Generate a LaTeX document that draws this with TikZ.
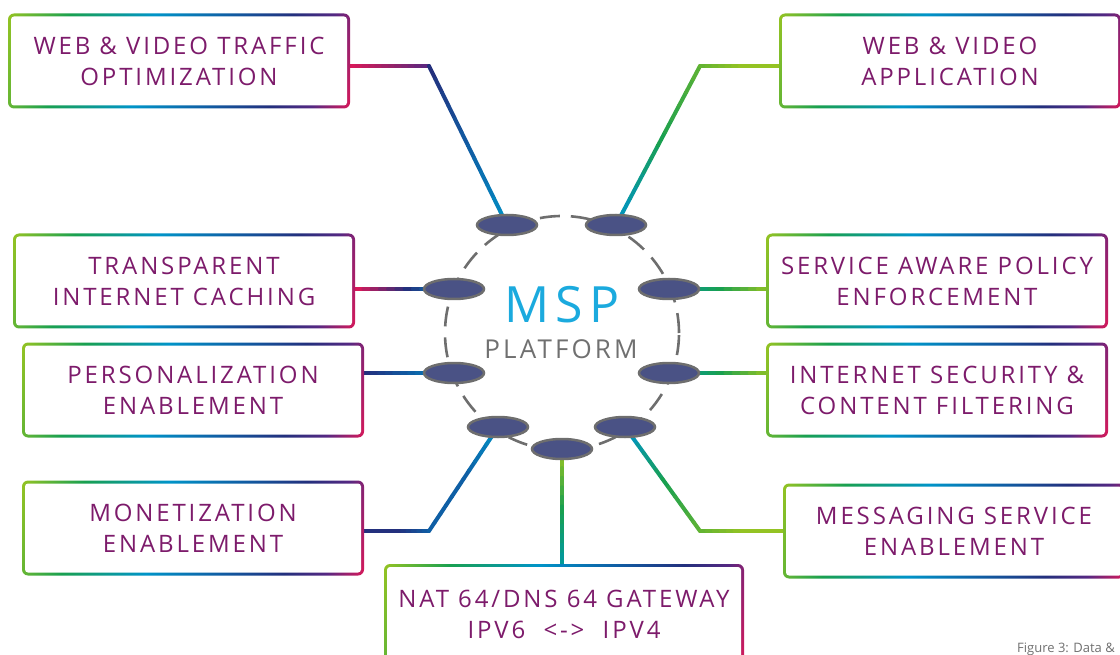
\documentclass[tikz,border=0pt]{standalone}
\usepackage{fontspec}
\setmainfont{Open Sans}
\newfontfamily\mspfont{Open Sans}[LetterSpace=12]
\usepackage{tikz}
\usetikzlibrary{
  shapes.geometric,
  calc,
  backgrounds
}
\tikzset{
  every node/.style={inner sep=2pt}
}
\definecolor{boxText}{RGB}{125, 27, 107}
\definecolor{mspCyan}{RGB}{27, 170, 222}
\definecolor{platformGray}{RGB}{112, 112, 112}
\definecolor{ringGray}{RGB}{110, 110, 110}
\definecolor{plugFill}{RGB}{74, 82, 133}
\definecolor{lineMagenta}{RGB}{215, 25, 90}
\definecolor{linePlum}{RGB}{150, 35, 105}
\definecolor{linePurple}{RGB}{85, 40, 130}
\definecolor{lineNavy}{RGB}{35, 48, 125}
\definecolor{lineBlue}{RGB}{15, 95, 165}
\definecolor{lineCyan}{RGB}{0, 148, 200}
\definecolor{lineTeal}{RGB}{0, 152, 165}
\definecolor{lineGreen}{RGB}{25, 160, 80}
\definecolor{lineLeaf}{RGB}{100, 180, 50}
\definecolor{lineLime}{RGB}{148, 195, 35}

\pgfdeclarehorizontalshading{frameGradient}{100bp}{
  color(0bp)=(lineLime); color(19.7bp)=(lineLime);
  color(30bp)=(lineGreen); color(44bp)=(lineCyan);
  color(56bp)=(lineBlue); color(67bp)=(lineNavy);
  color(74bp)=(linePurple); color(80.3bp)=(lineMagenta);
  color(100bp)=(lineMagenta)}

\newcommand{\gradline}[5]{%
  \foreach \i in {0,...,11}{
    \pgfmathsetmacro{\fa}{\i/12}
    \pgfmathsetmacro{\fb}{(\i+1)/12}
    \pgfmathtruncatemacro{\mixA}{100-\i*100/6}
    \pgfmathtruncatemacro{\mixB}{200-\i*100/6}
    \ifnum\i<6
      \colorlet{segColor}{#3!\mixA!#4}
    \else
      \colorlet{segColor}{#4!\mixB!#5}
    \fi
    \draw[link, segColor] ($(#1)!\fa!(#2)$) -- ($(#1)!\fb!(#2)$);
  }%
}

\begin{document}
\begin{tikzpicture}[
    x=1pt, y=-1pt,
    mspbox/.style={rectangle, rounded corners=6pt, shade, shading=frameGradient, shading angle=-14,
      path picture={\fill[white, rounded corners=3pt] ([xshift=3pt,yshift=-3pt]path picture bounding box.north west) rectangle ([xshift=-3pt,yshift=3pt]path picture bounding box.south east);},
      minimum width=342pt, minimum height=95pt, align=center, text=boxText,
      font=\mspfont\fontsize{24}{31}\selectfont},
    plug/.style={ellipse, fill=plugFill, draw=ringGray, line width=2.5pt, minimum width=60pt, minimum height=20pt, inner sep=0pt},
    ring/.style={draw=ringGray, line width=2.6pt, dash pattern=on 20pt off 11pt},
    link/.style={line width=4pt, line cap=round}
]

    \useasboundingbox (0,0) rectangle (1120,655);

    \node[mspbox] (traffic) at (179,61) {WEB \& VIDEO TRAFFIC\\OPTIMIZATION};
    \node[mspbox] (webapp) at (950,61) {WEB \& VIDEO\\APPLICATION};
    \node[mspbox] (caching) at (184,281) {TRANSPARENT\\INTERNET CACHING};
    \node[mspbox] (policy) at (937,281) {SERVICE AWARE POLICY\\ENFORCEMENT};
    \node[mspbox] (personal) at (193,390) {PERSONALIZATION\\ENABLEMENT};
    \node[mspbox] (security) at (937,390) {INTERNET SECURITY \&\\CONTENT FILTERING};
    \node[mspbox] (monet) at (193,528) {MONETIZATION\\ENABLEMENT};
    \node[mspbox] (messaging) at (954,531) {MESSAGING SERVICE\\ENABLEMENT};
    \node[mspbox, minimum width=360pt, minimum height=100pt] (nat) at (564,614) {NAT 64/DNS 64 GATEWAY\\IPV6\ \ <->\ \ IPV4};

    \coordinate (hub) at (562,333);
    \node[font=\mspfont\fontsize{50}{50}\selectfont, text=mspCyan] (msp) at (562,305) {MSP};
    \node[font=\mspfont\fontsize{26}{26}\selectfont, text=platformGray] (platform) at (561,349) {PLATFORM};

    \node[plug] (plugTraffic) at (507,225) {};
    \node[plug] (plugWebapp) at (616,225) {};
    \node[plug] (plugCaching) at (454,289) {};
    \node[plug] (plugPolicy) at (669,289) {};
    \node[plug] (plugPersonal) at (454,373) {};
    \node[plug] (plugSecurity) at (669,373) {};
    \node[plug] (plugMonet) at (498,427) {};
    \node[plug] (plugMessaging) at (625,427) {};
    \node[plug] (plugNat) at (562,449) {};

    \coordinate (kTraffic) at (429,66);
    \coordinate (kWebapp) at (700,66);
    \coordinate (kMonet) at (429,531);
    \coordinate (kMessaging) at (700,531);
    \coordinate (tTraffic) at (kTraffic -| traffic.east);
    \coordinate (tWebapp) at (kWebapp -| webapp.west);
    \coordinate (tCaching) at (plugCaching -| caching.east);
    \coordinate (tPolicy) at (plugPolicy -| policy.west);
    \coordinate (tPersonal) at (plugPersonal -| personal.east);
    \coordinate (tSecurity) at (plugSecurity -| security.west);
    \coordinate (tMonet) at (kMonet -| monet.east);
    \coordinate (tMessaging) at (kMessaging -| messaging.west);
    \coordinate (tNat) at (plugNat |- nat.north);

    \begin{scope}[on background layer]
        \draw[ring] (hub) circle (117pt);

        \gradline{tTraffic}{kTraffic}{lineMagenta}{linePlum}{linePurple}
        \gradline{kTraffic}{plugTraffic}{lineNavy}{lineBlue}{lineCyan}
        \gradline{plugWebapp}{kWebapp}{lineCyan}{lineGreen}{lineLeaf}
        \gradline{kWebapp}{tWebapp}{lineLeaf}{lineLime}{lineLime}
        \gradline{tCaching}{plugCaching}{lineMagenta}{lineNavy}{lineCyan}
        \gradline{plugPolicy}{tPolicy}{lineTeal}{lineGreen}{lineLime}
        \gradline{tPersonal}{plugPersonal}{lineNavy}{lineBlue}{lineCyan}
        \gradline{plugSecurity}{tSecurity}{lineTeal}{lineGreen}{lineLime}
        \gradline{tMonet}{kMonet}{lineNavy}{lineNavy}{lineBlue}
        \gradline{kMonet}{plugMonet}{lineBlue}{lineBlue}{lineCyan}
        \gradline{plugMessaging}{kMessaging}{lineCyan}{lineGreen}{lineLeaf}
        \gradline{kMessaging}{tMessaging}{lineLeaf}{lineLime}{lineLime}
        \gradline{plugNat}{tNat}{lineLime}{lineGreen}{lineTeal}
    \end{scope}

    \node[font=\fontsize{13}{13}\selectfont, text=platformGray, anchor=base east] (caption) at (1117,652) {Figure 3: Data \&};

\end{tikzpicture}
\end{document}
